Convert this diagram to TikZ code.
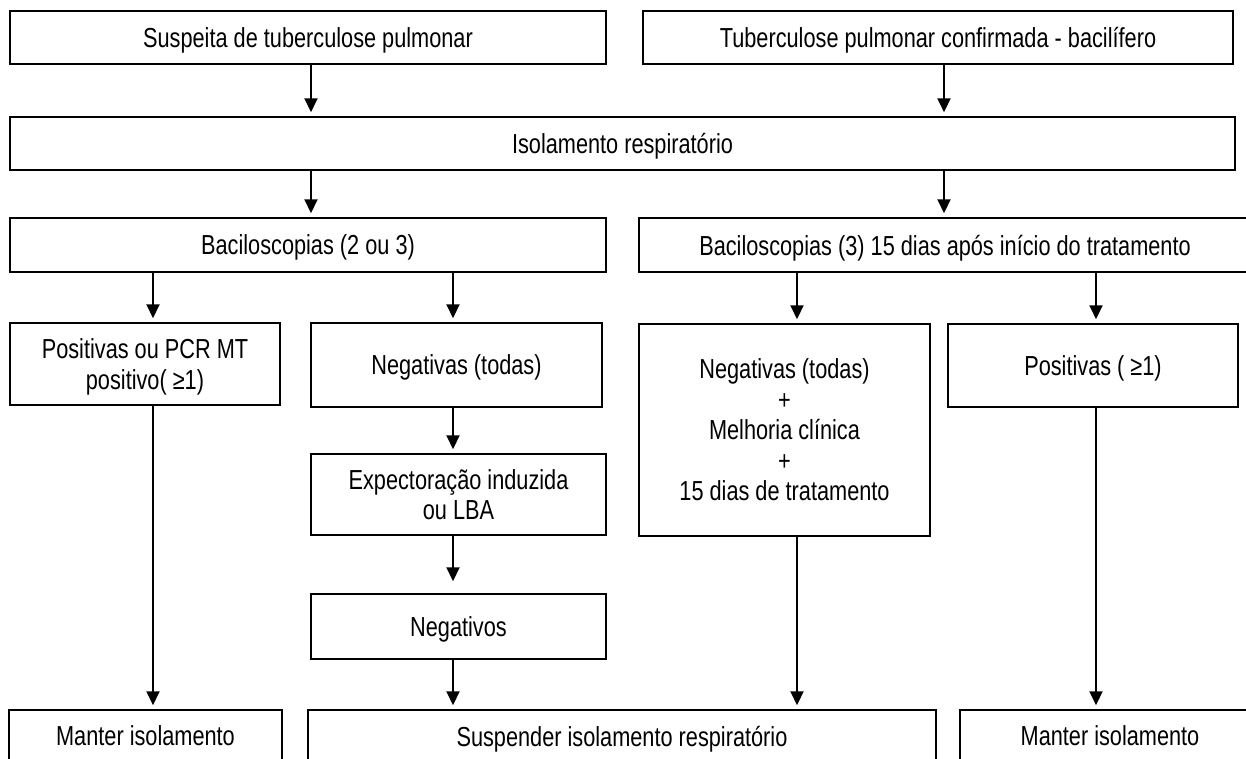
\documentclass[tikz,border=0pt]{standalone}
\usepackage{fontspec}
\setmainfont{Liberation Sans}[FakeStretch=0.79]
\usetikzlibrary{arrows.meta}
\begin{document}
\begin{tikzpicture}[x=1pt,y=-1pt,
  box/.style={draw, line width=1.5pt, inner sep=0pt, align=center, text depth=0pt,
    font=\fontsize{27.5}{30.5}\selectfont},
  arr/.style={line width=2pt, -{Triangle[width=13pt,length=14pt]}, shorten >=4pt}]
\clip (0,0) rectangle (1246,758);
\fill[white] (0,0) rectangle (1246,758);
% boxes
\node[box, minimum width=596pt, minimum height=53pt] (A) at (308,37.5) {Suspeita de tuberculose pulmonar};
\node[box, minimum width=590pt, minimum height=53pt] (B) at (938,37.5) {Tuberculose pulmonar confirmada - bacilífero};
\node[box, minimum width=1225pt, minimum height=53pt] (C) at (622.5,143.5) {Isolamento respiratório};
\node[box, minimum width=596pt, minimum height=54pt] (D) at (308,245) {Baciloscopias (2 ou 3)};
\node[box, minimum width=612pt, minimum height=54pt] (E) at (945,245) {Baciloscopias (3) 15 dias após início do tratamento};
\node[box, minimum width=270pt, minimum height=82pt] (F) at (145,364) {Positivas ou PCR MT\\positivo( ≥1)};
\node[box, minimum width=291pt, minimum height=84pt] (G) at (456.5,365) {Negativas (todas)};
\node[box, minimum width=295pt, minimum height=81pt] (H) at (458.5,494.5) {Expectoração induzida\\ou LBA};
\node[box, minimum width=295pt, minimum height=65pt] (I) at (458.5,626.5) {Negativos};
\node[box, minimum width=291pt, minimum height=212pt] (J) at (784.5,430) {Negativas (todas)\\+\\Melhoria clínica\\+\\15 dias de tratamento};
\node[box, minimum width=290pt, minimum height=83pt] (K) at (1093,365.5) {Positivas ( ≥1)};
\node[box, minimum width=273pt, minimum height=52pt] (L) at (145.5,736) {Manter isolamento};
\node[box, minimum width=628pt, minimum height=52pt] (M) at (622,736) {Suspender isolamento respiratório};
\node[box, minimum width=300pt, minimum height=52pt] (R) at (1110,736) {Manter isolamento};
% column positions
\coordinate (xa) at (311,0);
\coordinate (xb) at (944,0);
\coordinate (xc) at (153,0);
\coordinate (xd) at (453,0);
\coordinate (xe) at (797,0);
\coordinate (xf) at (1096,0);
% arrows
\draw[arr] (A.south -| xa) -- (C.north -| xa);
\draw[arr] (B.south -| xb) -- (C.north -| xb);
\draw[arr] (C.south -| xa) -- (D.north -| xa);
\draw[arr] (C.south -| xb) -- (E.north -| xb);
\draw[arr] (D.south -| xc) -- (F.north -| xc);
\draw[arr] (D.south -| xd) -- (G.north -| xd);
\draw[arr] (E.south -| xe) -- (J.north -| xe);
\draw[arr] (E.south -| xf) -- (K.north -| xf);
\draw[arr] (G.south -| xd) -- (H.north -| xd);
\draw[arr, shorten >=12pt] (H.south -| xd) -- (I.north -| xd);
\draw[arr] (I.south -| xd) -- (M.north -| xd);
\draw[arr] (F.south -| xc) -- (L.north -| xc);
\draw[arr] (J.south -| xe) -- (M.north -| xe);
\draw[arr] (K.south -| xf) -- (R.north -| xf);
\end{tikzpicture}
\end{document}
